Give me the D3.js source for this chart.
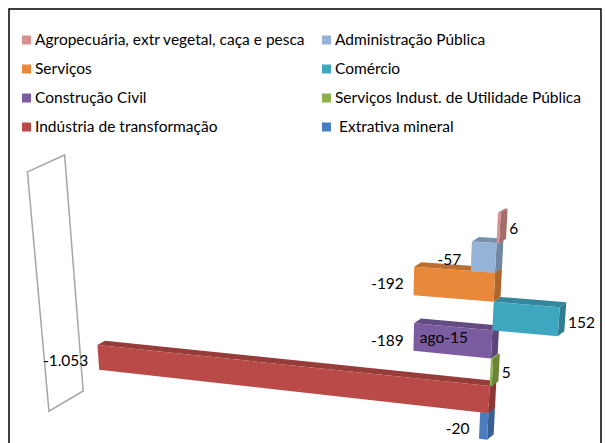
<!DOCTYPE html>
<html>
<head>
<meta charset="utf-8">
<script src="https://cdn.jsdelivr.net/npm/d3@7"></script>
<style>
  body { margin: 0; background: #fff; }
  text { font-family: Lato, "Open Sans", sans-serif; fill: #000; }
</style>
</head>
<body>
<div id="chart"></div>
<script>
// dados de ago-15
var categoria = "ago-15";
var setores = ["Agropecuária, extr vegetal, caça e pesca", "Administração Pública", "Serviços", "Comércio",
	"Construção Civil", "Serviços Indust. de Utilidade Pública", "Indústria de transformação", " Extrativa mineral"];
var saldos = [6, -57, -192, 152, -189, 5, -1053, -20];
var cores = ["#D9918F", "#95B3D7", "#E8883A", "#3FA6C0", "#7B5CA0", "#8DB14B", "#BA4A47", "#4A7EC0"];

var width = 605, height = 443;
var eixoMin = -1220;

var fmt = d3.formatLocale({decimal: ",", thousands: ".", grouping: [3], currency: ["R$", ""], minus: "-"}).format(",d");

var x = d3.scaleLinear().domain([-1000, 0]).range([-1, 0]);
var y = d3.scaleBand().domain(setores).range([0, setores.length]).padding(0);

// projecao em perspectiva (u = valor, t = linha, z = profundidade)
function proj(u, t, z) {
	var den = -0.115 * u + 0.00898 * t + 0.005 * z + 1;
	return [(381.4 * u + 3.01 * t + 9.5 * z + 498) / den,
	        (1.33 * u + 32.3 * t - 3.4 * z + 213) / den];
}
function poly(pts) {
	return "M" + pts.map(function(p) { return proj(p[0], p[1], p[2]).join(","); }).join("L") + "Z";
}

var svg = d3.select("#chart").append("svg")
	.attr("width", width)
	.attr("height", height);

svg.append("rect")
	.attr("width", width).attr("height", height)
	.attr("fill", "#fff");

svg.append("rect")
	.attr("x", 9).attr("y", 9)
	.attr("width", 592).attr("height", 460)
	.attr("fill", "none")
	.attr("stroke", "#000")
	.attr("stroke-width", 1.5);

// legenda
var leg = svg.append("g").selectAll("g")
	.data(setores)
	.enter().append("g")
	.attr("transform", function(d, i) {
		return "translate(" + (i % 2 ? 322 : 22) + "," + (40 + Math.floor(i / 2) * 29) + ")";
	});
leg.append("rect")
	.attr("y", -4.5).attr("width", 9).attr("height", 9)
	.attr("fill", function(d, i) { return cores[i]; });
leg.append("text")
	.attr("x", 13).attr("dy", "0.35em")
	.style("font-size", "15.5px")
	.style("white-space", "pre")
	.text(function(d) { return d; });

// parede lateral
var u0 = x(eixoMin);
svg.append("path")
	.attr("d", poly([[u0, -0.5, 0], [u0, -0.5, 4.6], [u0, 9, 4.6], [u0, 9, 0]]))
	.attr("fill", "none")
	.attr("stroke", "#A6A6A6")
	.attr("stroke-width", 1.5);

// barras, de baixo para cima
var bars = setores.map(function(s, i) { return {nome: s, valor: saldos[i], cor: cores[i]}; }).reverse();

var g = svg.append("g");
bars.forEach(function(d) {
	var a = x(Math.min(0, d.valor)), b = x(Math.max(0, d.valor));
	var t0 = y(d.nome), t1 = t0 + y.bandwidth();
	var c = d3.color(d.cor);
	g.append("path").attr("d", poly([[a, t0, 0], [b, t0, 0], [b, t0, 1], [a, t0, 1]]))
		.attr("fill", c.darker(0.6));
	g.append("path").attr("d", poly([[b, t0, 0], [b, t1, 0], [b, t1, 1], [b, t0, 1]]))
		.attr("fill", c.darker(0.8));
	g.append("path").attr("d", poly([[a, t0, 0], [b, t0, 0], [b, t1, 0], [a, t1, 0]]))
		.attr("fill", c);
});

// rotulos
var rot = svg.append("g").style("font-size", "15.5px");
bars.forEach(function(d) {
	var tm = y(d.nome) + y.bandwidth() / 2;
	var p = d.valor >= 0 ? proj(x(d.valor), tm, 0.5) : proj(x(d.valor), tm, 0);
	rot.append("text")
		.attr("x", d.valor >= 0 ? p[0] + 6 : p[0] - 10)
		.attr("y", p[1] + 3)
		.attr("dy", "0.35em")
		.attr("text-anchor", d.valor >= 0 ? "start" : "end")
		.text(fmt(d.valor));
});

var pc = proj(x(0), setores.length / 2 + 0.25, 0);
svg.append("text")
	.attr("x", pc[0] - 24).attr("y", pc[1])
	.attr("dy", "0.35em")
	.attr("text-anchor", "end")
	.style("font-size", "15.5px")
	.text(categoria);
</script>
</body>
</html>
